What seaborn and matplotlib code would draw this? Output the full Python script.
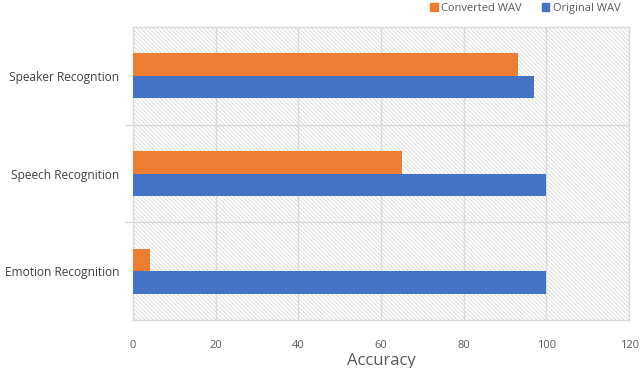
import pandas as pd
import seaborn as sns
import matplotlib.pyplot as plt
from matplotlib.patches import Rectangle

tasks = ['Speaker Recogntion', 'Speech Recognition', 'Emotion Recognition']
converted = [93, 65, 4]
original = [97, 100, 100]
series = ['Converted WAV', 'Original WAV']

df = pd.DataFrame({
    'Task': tasks * 2,
    'Accuracy': converted + original,
    'Series': [series[0]] * 3 + [series[1]] * 3,
})

sns.set_theme(style='white')
plt.rcParams['font.family'] = ['Open Sans', 'DejaVu Sans']
plt.rcParams['hatch.linewidth'] = 0.7

fig = plt.figure(figsize=(6.4, 3.68), dpi=100)
ax = fig.add_axes([0.208, 0.130, 0.775, 0.797])

# hatched background of the plot area
bg = Rectangle((0, 0), 1, 1, transform=ax.transAxes, facecolor='white',
               edgecolor='#dcdcdc', hatch='\\' * 8, lw=0, zorder=0)
ax.add_patch(bg)

sns.barplot(data=df, y='Task', x='Accuracy', hue='Series', hue_order=series,
            order=tasks, palette=['#ED7D31', '#4472C4'], width=0.46,
            orient='h', ax=ax, zorder=3, saturation=1, legend=False,
            linewidth=0)

ax.set_xlim(0, 120)
ax.set_ylim(2.5, -0.5)
ax.set_xticks(range(0, 121, 20))
ax.set_yticks([0.5, 1.5], minor=True)
ax.xaxis.grid(True, color='#d9d9d9', lw=1, zorder=1)
ax.yaxis.grid(True, which='minor', color='#d9d9d9', lw=1, zorder=1)
ax.set_axisbelow(True)

ax.tick_params(axis='x', length=0, pad=14, labelsize=8, labelcolor='#595959')
ax.tick_params(axis='y', which='major', length=0, pad=10, labelsize=8.6,
               labelcolor='#404040')
ax.tick_params(axis='y', which='minor', length=6, width=1, color='#d9d9d9',
               left=True)

for s in ax.spines.values():
    s.set_color('#d9d9d9')
    s.set_linewidth(1)

ax.set_ylabel('')
ax.set_xlabel('Accuracy', fontsize=12, color='#595959', labelpad=2)

handles = [Rectangle((0, 0), 1, 1, color='#ED7D31'),
           Rectangle((0, 0), 1, 1, color='#4472C4')]
fig.legend(handles, series, loc='upper right', bbox_to_anchor=(0.985, 1.02),
           ncol=2, frameon=False, fontsize=8, labelcolor='#595959',
           handlelength=0.7, handleheight=0.7, handletextpad=0.3,
           columnspacing=1.8)

fig.savefig('out.png', dpi=100)
